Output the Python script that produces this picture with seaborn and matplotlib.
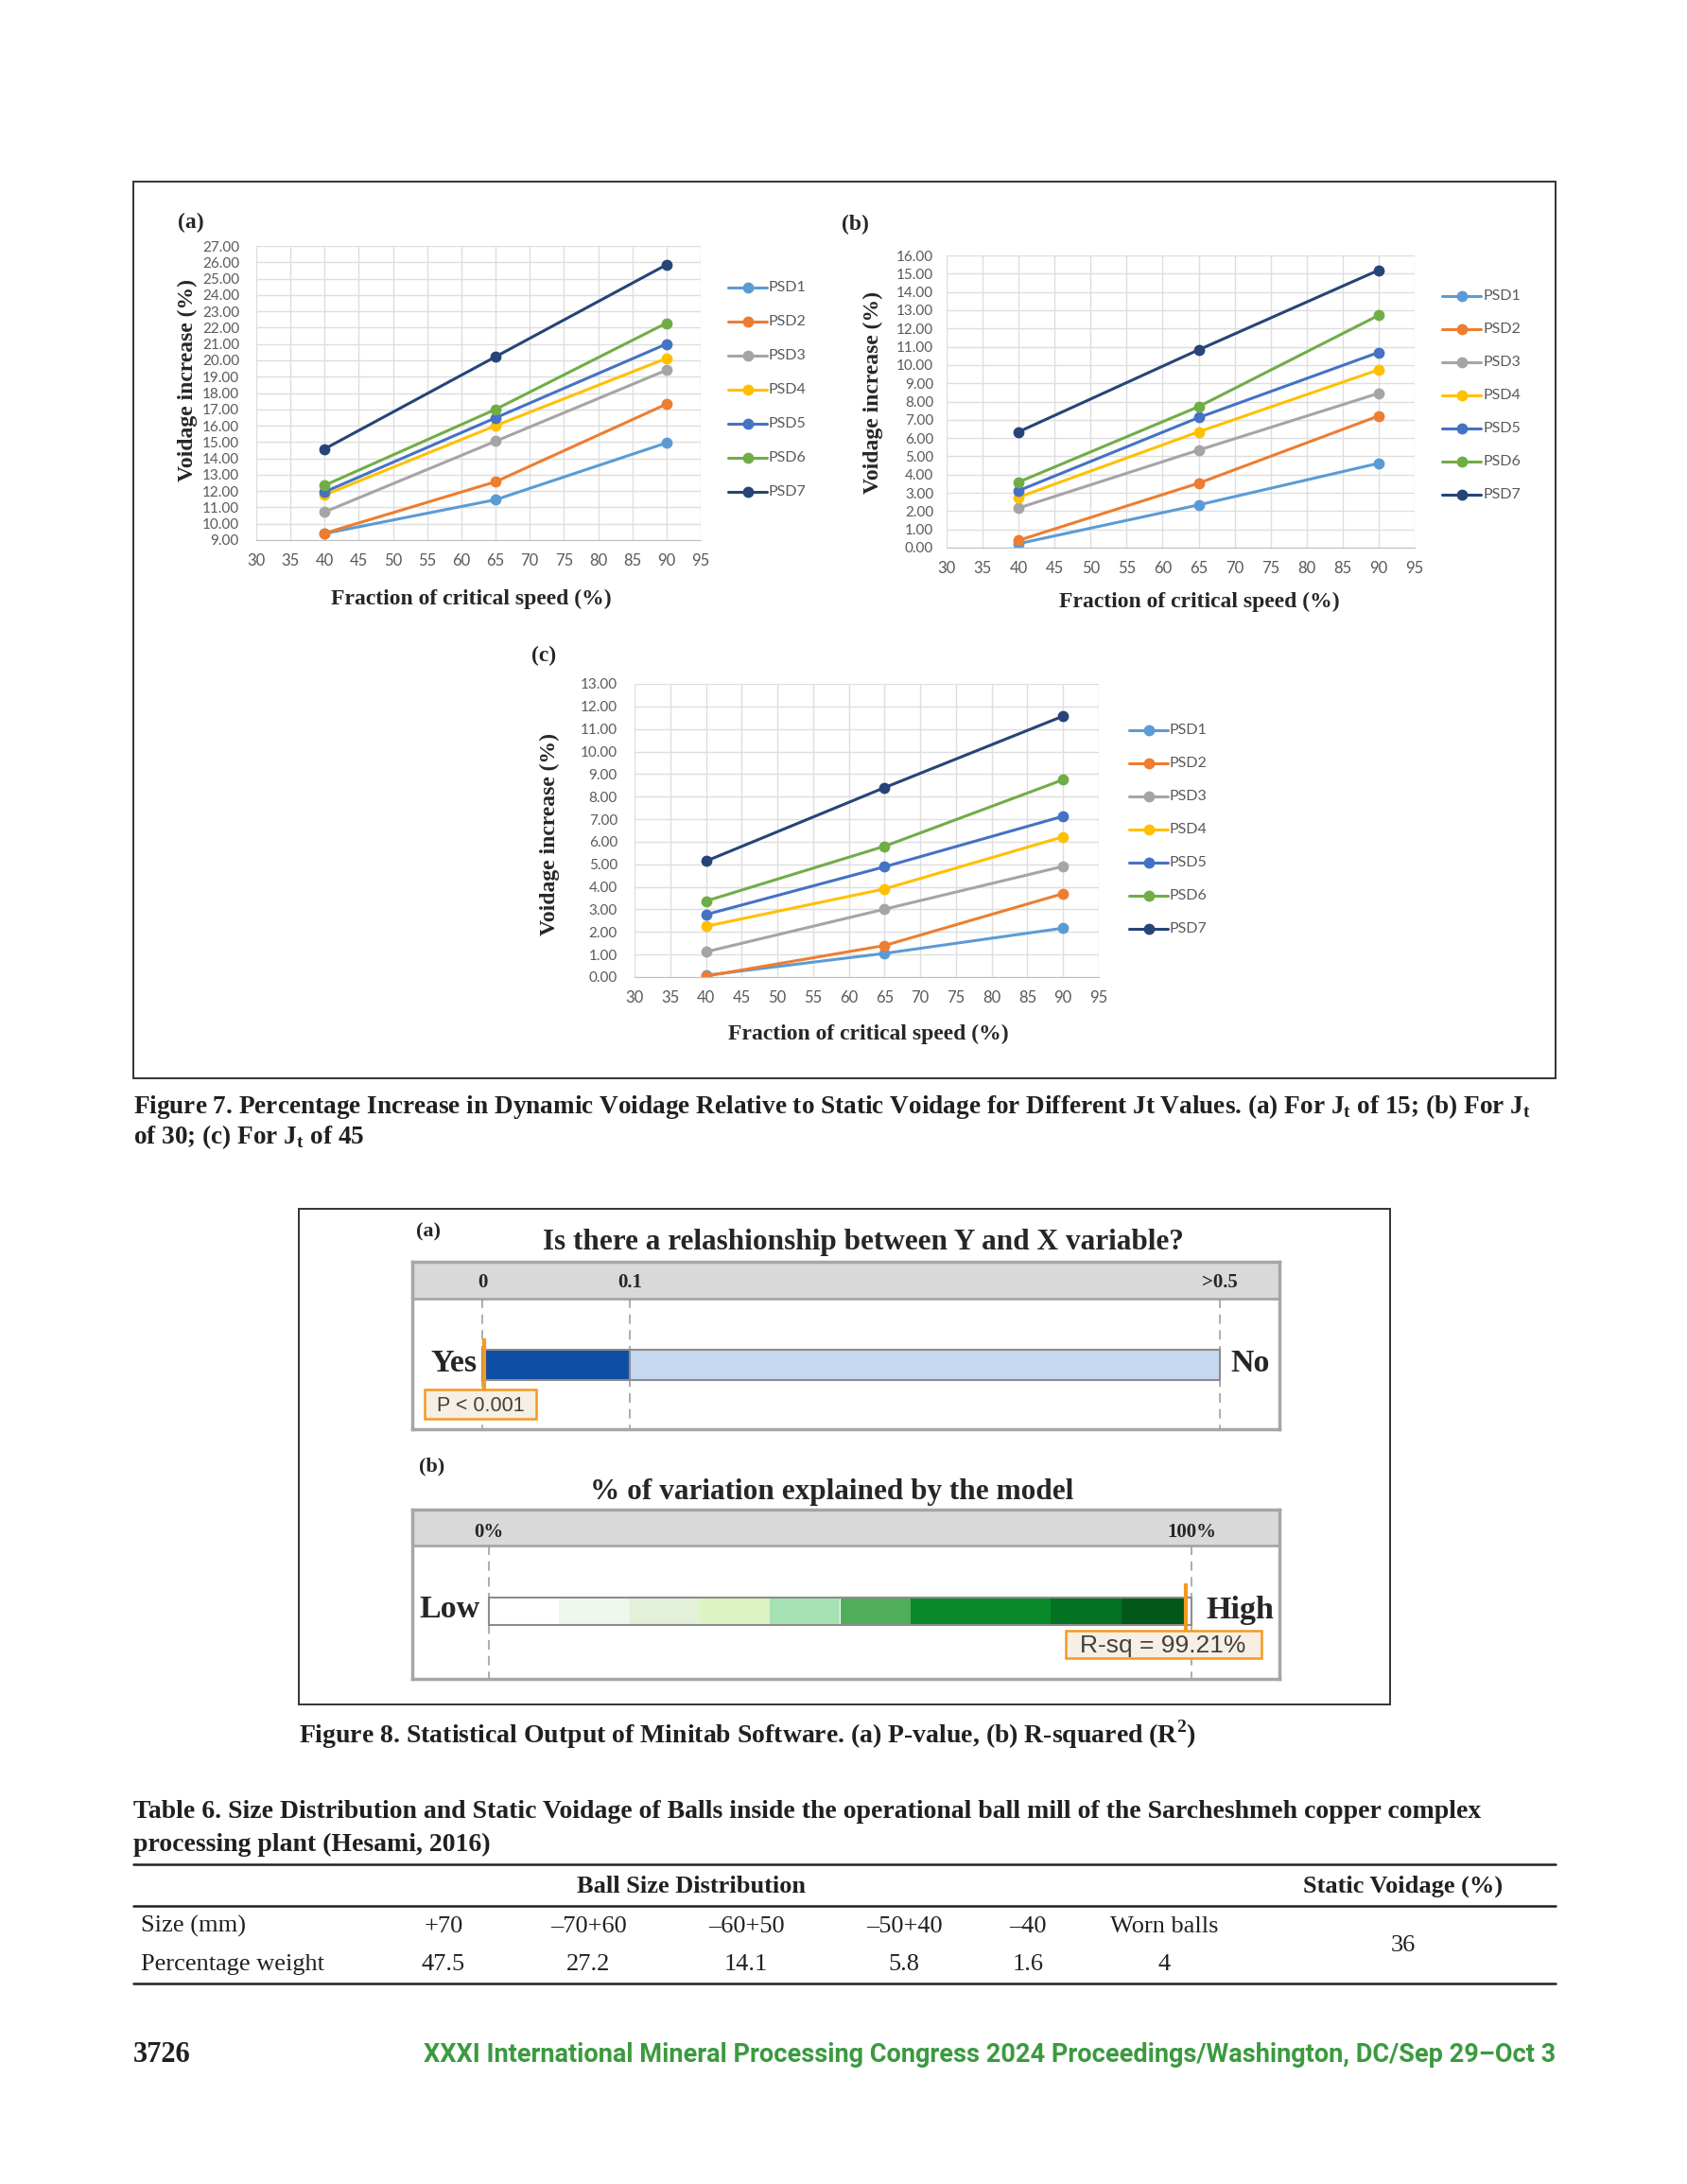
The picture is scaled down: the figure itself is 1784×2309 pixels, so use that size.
import numpy as np
import pandas as pd

import matplotlib
matplotlib.use('Agg')
import matplotlib.pyplot as plt
from matplotlib.patches import Rectangle
import seaborn as sns


# 페이지 크기 (픽셀)
W, H = 1784, 2309

# Figure 7 데이터
speeds = [40, 65, 90]
psd_names = ['PSD1', 'PSD2', 'PSD3', 'PSD4', 'PSD5', 'PSD6', 'PSD7']
psd_colors = ['#5B9BD5', '#ED7D31', '#A5A5A5', '#FFC000', '#4472C4', '#70AD47', '#264478']

voidage_jt15 = [[9.40, 11.47, 14.95],
                [9.42, 12.57, 17.32],
                [10.72, 15.05, 19.40],
                [11.76, 16.00, 20.12],
                [11.95, 16.48, 21.00],
                [12.35, 17.00, 22.28],
                [14.58, 20.22, 25.85]]
voidage_jt30 = [[0.22, 2.34, 4.62],
                [0.40, 3.53, 7.21],
                [2.17, 5.34, 8.45],
                [2.76, 6.34, 9.74],
                [3.12, 7.12, 10.69],
                [3.59, 7.72, 12.72],
                [6.34, 10.83, 15.19]]
voidage_jt45 = [[0.08, 1.05, 2.17],
                [0.04, 1.40, 3.70],
                [1.12, 3.01, 4.91],
                [2.25, 3.91, 6.22],
                [2.77, 4.89, 7.13],
                [3.37, 5.80, 8.75],
                [5.14, 8.40, 11.57]]

# Figure 8 데이터
p_ticks = [0, 0.1, 0.5]
p_tick_labels = ['0', '0.1', '>0.5']
p_band_colors = ['#0E4DA4', '#C5D8F0']
p_value = 0.001
rsq_ticks = [0, 100]
rsq_tick_labels = ['0%', '100%']
rsq_value = 99.21
rsq_bands = [0, 10, 20, 30, 40, 50, 60, 80, 90]
rsq_band_colors = ['#FFFFFF', '#EFF7EC', '#E3F1D9', '#DCF4C4', '#A7E2B5',
                   '#50AE5B', '#0A892B', '#037222', '#02581B']

# Table 6 데이터
ball_sizes = ['+70', '\u201370+60', '\u201360+50', '\u201350+40', '\u201340', 'Worn balls']
ball_weights = ['47.5', '27.2', '14.1', '5.8', '1.6', '4']
static_voidage = '36'

SERIF = 'Liberation Serif'
TICK_FONT = 'Lato'
ORANGE = '#F39A22'
BOX_GRAY = '#A6A6A6'
INK = '#231F20'

sns.set_style('white')
plt.rcParams['font.family'] = [SERIF, 'DejaVu Sans']
plt.rcParams['mathtext.fontset'] = 'custom'
plt.rcParams['mathtext.rm'] = SERIF
plt.rcParams['mathtext.bf'] = SERIF + ':bold'


def px_rect(x0, y0, x1, y1):
    return [x0 / W, 1 - y1 / H, (x1 - x0) / W, (y1 - y0) / H]


# 선 그래프 그리기
def draw_voidage(ax, values, ylim, ypad):
    df = pd.DataFrame([(psd, s, v) for psd, row in zip(psd_names, values)
                       for s, v in zip(speeds, row)],
                      columns=['psd', 'speed', 'voidage'])
    sns.lineplot(data=df, x='speed', y='voidage', hue='psd', palette=psd_colors,
                 marker='o', markersize=8.5, markeredgewidth=0, linewidth=2.2,
                 legend=False, ax=ax)
    ax.set_xlim(30, 95)
    ax.set_xticks(range(30, 100, 5))
    ax.set_ylim(*ylim)
    ax.set_yticks(np.arange(ylim[0], ylim[1] + 1))
    ax.yaxis.set_major_formatter('{x:.2f}')
    ax.grid(True, color='#DEDEDE', linewidth=1)
    ax.set_axisbelow(True)
    for s in ['top', 'left', 'right']:
        ax.spines[s].set_visible(False)
    ax.spines['bottom'].set_color('#BFBFBF')
    ax.tick_params(length=0, labelcolor='#595959')
    ax.tick_params(axis='y', pad=ypad, labelsize=11)
    ax.tick_params(axis='x', pad=10, labelsize=12)
    for lab in ax.get_xticklabels() + ax.get_yticklabels():
        lab.set_family(TICK_FONT)
    ax.set_xlabel('')
    ax.set_ylabel('')


def draw_legend(page, x0, y0, step):
    for i, (name, col) in enumerate(zip(psd_names, psd_colors)):
        y = y0 + i * step
        page.plot([x0, x0 + 41], [y, y], color=col, lw=2.2)
        page.plot(x0 + 20.5, y, 'o', color=col, ms=8.5, mew=0)
        page.text(x0 + 43, y, name, family=TICK_FONT, fontsize=11.5,
                  color='#595959', va='center')


fig = plt.figure(figsize=(W / 100, H / 100), dpi=100)
fig.patch.set_facecolor('white')

# 페이지 전체 좌표 (픽셀, 위에서 아래로) - 다른 축 위에 그림
page = fig.add_axes([0, 0, 1, 1])
page.set_xlim(0, W)
page.set_ylim(H, 0)
page.axis('off')
page.set_zorder(10)

# ---------------- Figure 7 ----------------
page.add_patch(Rectangle((141, 192), 1645 - 141, 1140 - 192, fill=False,
                         ec='#333333', lw=1.4))

panels = [
    # (axes rect, values, ylim, ypad, letter pos, ylabel pos, xlabel pos, legend pos)
    ((271, 260, 741, 571), voidage_jt15, (9, 27), 13, (188, 235), (198, 402), (498, 633), (770, 304, 36)),
    ((1001, 270, 1496, 579), voidage_jt30, (0, 16), 10, (890, 237), (923, 415), (1268, 636), (1525, 313, 35)),
    ((671, 723, 1162, 1033), voidage_jt45, (0, 13), 13, (562, 693), (581, 882), (918, 1093), (1194, 772, 35)),
]
for (rect, vals, ylim, ypad, let_xy, yl_xy, xl_xy, leg), letter in zip(panels, ['(a)', '(b)', '(c)']):
    ax = fig.add_axes(px_rect(*rect))
    draw_voidage(ax, vals, ylim, ypad)
    page.text(let_xy[0], let_xy[1], letter, fontsize=17, fontweight='bold',
              ha='left', va='center')
    page.text(yl_xy[0], yl_xy[1], 'Voidage increase (%)', fontsize=17,
              fontweight='bold', rotation=90, ha='center', va='center')
    page.text(xl_xy[0], xl_xy[1], 'Fraction of critical speed (%)', fontsize=17,
              fontweight='bold', ha='center', va='center')
    draw_legend(page, *leg)

page.text(141, 1177, 'Figure 7. Percentage Increase in Dynamic Voidage Relative to Static '
          'Voidage for Different Jt Values. (a) For J$_\\mathbf{t}$ of 15; (b) For J$_\\mathbf{t}$',
          fontsize=19.6, fontweight='bold', color=INK, va='baseline')
page.text(141, 1209, 'of 30; (c) For J$_\\mathbf{t}$ of 45',
          fontsize=19.6, fontweight='bold', color=INK, va='baseline')

# ---------------- Figure 8 ----------------
page.add_patch(Rectangle((316, 1278), 1470 - 316, 1802 - 1278, fill=False,
                         ec='#333333', lw=1.4))

# (a) P-value
ax_p = fig.add_axes(px_rect(436, 1334, 1353, 1511))
ax_p.set_xlim((436 - 510) / 1560, (1353 - 510) / 1560)
ax_p.set_ylim(1511, 1334)
ax_p.axhspan(1334, 1373, color='#D9D9D9', lw=0)
ax_p.axhline(1373, color=BOX_GRAY, lw=2)
ax_p.vlines(p_ticks, 1373, 1511, colors='#A0A0A0', lw=1.2, linestyles=(0, (6, 4)))
ax_p.barh(1443, np.diff(p_ticks), left=p_ticks[:-1], height=32,
          color=p_band_colors, edgecolor='#8C8C8C', lw=1.5, zorder=3)
ax_p.vlines(p_value, 1415, 1469, colors=ORANGE, lw=3, zorder=4)
for t, lab in zip(p_ticks, p_tick_labels):
    ax_p.text(t, 1356, lab, fontsize=15, fontweight='bold', ha='center', va='center')
ax_p.set_xticks([])
ax_p.set_yticks([])
for s in ax_p.spines.values():
    s.set_color(BOX_GRAY)
    s.set_linewidth(2.5)

page.text(440, 1302, '(a)', fontsize=16, fontweight='bold', ha='left', va='center')
page.text(913, 1314, 'Is there a relashionship between Y and X variable?', fontsize=22.5,
          fontweight='bold', ha='center', va='center')
page.text(504, 1441, 'Yes', fontsize=24.5, fontweight='bold', ha='right', va='center')
page.text(1301, 1441, 'No', fontsize=24.5, fontweight='bold', ha='left', va='center')
page.add_patch(Rectangle((449, 1469), 118, 31, fc='#F7EFE3', ec=ORANGE, lw=1.8))
page.text(508, 1486, 'P < 0.001', family='Liberation Sans', fontsize=15.5,
          color='#404040', ha='center', va='center')

# (b) R-squared
ax_r = fig.add_axes(px_rect(436, 1596, 1353, 1775))
ax_r.set_xlim((436 - 517) / 7.43, (1353 - 517) / 7.43)
ax_r.set_ylim(1775, 1596)
ax_r.axhspan(1596, 1634, color='#D9D9D9', lw=0)
ax_r.axhline(1634, color=BOX_GRAY, lw=2)
ax_r.vlines(rsq_ticks, 1634, 1775, colors='#A0A0A0', lw=1.2, linestyles=(0, (6, 4)))
ax_r.barh(1703.5, np.diff(rsq_bands + [rsq_value]), left=rsq_bands, height=29,
          color=rsq_band_colors, lw=0, zorder=3)
ax_r.barh(1703.5, rsq_ticks[1] - rsq_ticks[0], left=rsq_ticks[0], height=29,
          fill=False, edgecolor='#8C8C8C', lw=1.5, zorder=4)
ax_r.vlines(rsq_value, 1674, 1724, colors=ORANGE, lw=3, zorder=5)
for t, lab in zip(rsq_ticks, rsq_tick_labels):
    ax_r.text(t, 1620, lab, fontsize=15, fontweight='bold', ha='center', va='center')
ax_r.set_xticks([])
ax_r.set_yticks([])
for s in ax_r.spines.values():
    s.set_color(BOX_GRAY)
    s.set_linewidth(2.5)

page.text(443, 1550, '(b)', fontsize=16, fontweight='bold', ha='left', va='center')
page.text(880, 1577, '% of variation explained by the model', fontsize=22.5,
          fontweight='bold', ha='center', va='center')
page.text(508, 1702, 'Low', fontsize=24.5, fontweight='bold', ha='right', va='center')
page.text(1275, 1702, 'High', fontsize=24.5, fontweight='bold', ha='left', va='center')
page.add_patch(Rectangle((1127, 1724), 207, 29, fc='#F7EFE3', ec=ORANGE, lw=1.8))
page.text(1230, 1740, 'R-sq = 99.21%', family='Liberation Sans', fontsize=19,
          color='#404040', ha='center', va='center')

page.text(316, 1843, 'Figure 8. Statistical Output of Minitab Software. (a) P-value, '
          '(b) R-squared (R$^\\mathbf{2}$)',
          fontsize=20, fontweight='bold', color=INK, va='baseline')

# ---------------- Table 6 ----------------
page.text(141, 1922, 'Table 6. Size Distribution and Static Voidage of Balls inside the '
          'operational ball mill of the Sarcheshmeh copper complex',
          fontsize=20, fontweight='bold', color=INK, va='baseline')
page.text(141, 1957, 'processing plant (Hesami, 2016)',
          fontsize=20, fontweight='bold', color=INK, va='baseline')

for y in [1971, 2015, 2097]:
    page.plot([141, 1645], [y, y], color=INK, lw=1.8)

page.text(731, 2001, 'Ball Size Distribution', fontsize=19, fontweight='bold',
          color=INK, ha='center', va='baseline')
page.text(1484, 2001, 'Static Voidage (%)', fontsize=19, fontweight='bold',
          color=INK, ha='center', va='baseline')

col_x = [469, 622, 789, 956, 1087, 1231]
page.text(149, 2043, 'Size (mm)', fontsize=19, color=INK, va='baseline')
page.text(149, 2083, 'Percentage weight', fontsize=19, color=INK, va='baseline')
for x, s, w in zip(col_x, ball_sizes, ball_weights):
    page.text(x, 2043, s, fontsize=19, color=INK, ha='center', va='baseline')
    page.text(x, 2083, w, fontsize=19, color=INK, ha='center', va='baseline')
page.text(1484, 2063, static_voidage, fontsize=19, color=INK, ha='center', va='baseline')

# 페이지 하단
page.text(141, 2180, '3726', fontsize=22, fontweight='bold', color=INK, va='baseline')
page.text(1645, 2180, 'XXXI International Mineral Processing Congress 2024 '
          'Proceedings/Washington, DC/Sep 29\u2013Oct 3',
          family='Roboto', fontsize=19.5, fontweight='bold', color='#3B9A3F',
          ha='right', va='baseline')

fig.savefig('out.png', dpi=100, facecolor='white')
